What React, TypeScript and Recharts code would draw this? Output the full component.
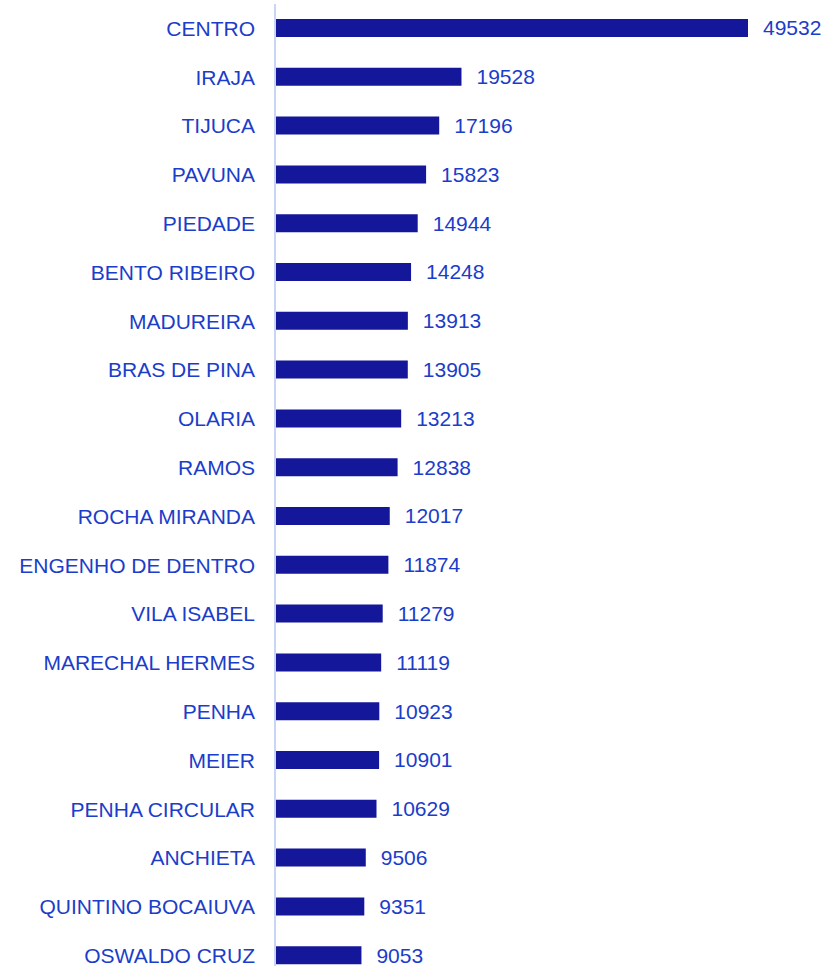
import { BarChart, Bar, XAxis, YAxis, LabelList } from "recharts";

const bairros = [
    "CENTRO",
    "IRAJA",
    "TIJUCA",
    "PAVUNA",
    "PIEDADE",
    "BENTO RIBEIRO",
    "MADUREIRA",
    "BRAS DE PINA",
    "OLARIA",
    "RAMOS",
    "ROCHA MIRANDA",
    "ENGENHO DE DENTRO",
    "VILA ISABEL",
    "MARECHAL HERMES",
    "PENHA",
    "MEIER",
    "PENHA CIRCULAR",
    "ANCHIETA",
    "QUINTINO BOCAIUVA",
    "OSWALDO CRUZ",
];

const totais = [
    49532, 19528, 17196, 15823, 14944, 14248, 13913, 13905, 13213, 12838,
    12017, 11874, 11279, 11119, 10923, 10901, 10629, 9506, 9351, 9053,
];

const data = bairros.map((name, i) => ({ name, value: totais[i] }));

const textColor = "#1b3dc9";
const barColor = "#14179a";
const fontFamily = "'Liberation Sans', Arial, sans-serif";

export default function App() {
    return (
        <div style={{ position: "absolute", left: 0, top: 0 }}>
            <BarChart
                width={828}
                height={980}
                data={data}
                layout="vertical"
                margin={{ top: 4, right: 80, bottom: 0, left: 0 }}
                barSize={18}
            >
                <XAxis type="number" hide domain={[0, 49532]} />
                <YAxis
                    type="category"
                    dataKey="name"
                    width={275}
                    axisLine={{ stroke: "#c9d5f5", strokeWidth: 2 }}
                    tickLine={false}
                    tickSize={0}
                    tickMargin={20}
                    interval={0}
                    tick={{ fill: textColor, fontSize: 21, fontFamily }}
                />
                <Bar dataKey="value" fill={barColor} isAnimationActive={false}>
                    <LabelList
                        dataKey="value"
                        position="right"
                        offset={15}
                        fill={textColor}
                        fontSize={21}
                        fontFamily={fontFamily}
                    />
                </Bar>
            </BarChart>
        </div>
    );
}
